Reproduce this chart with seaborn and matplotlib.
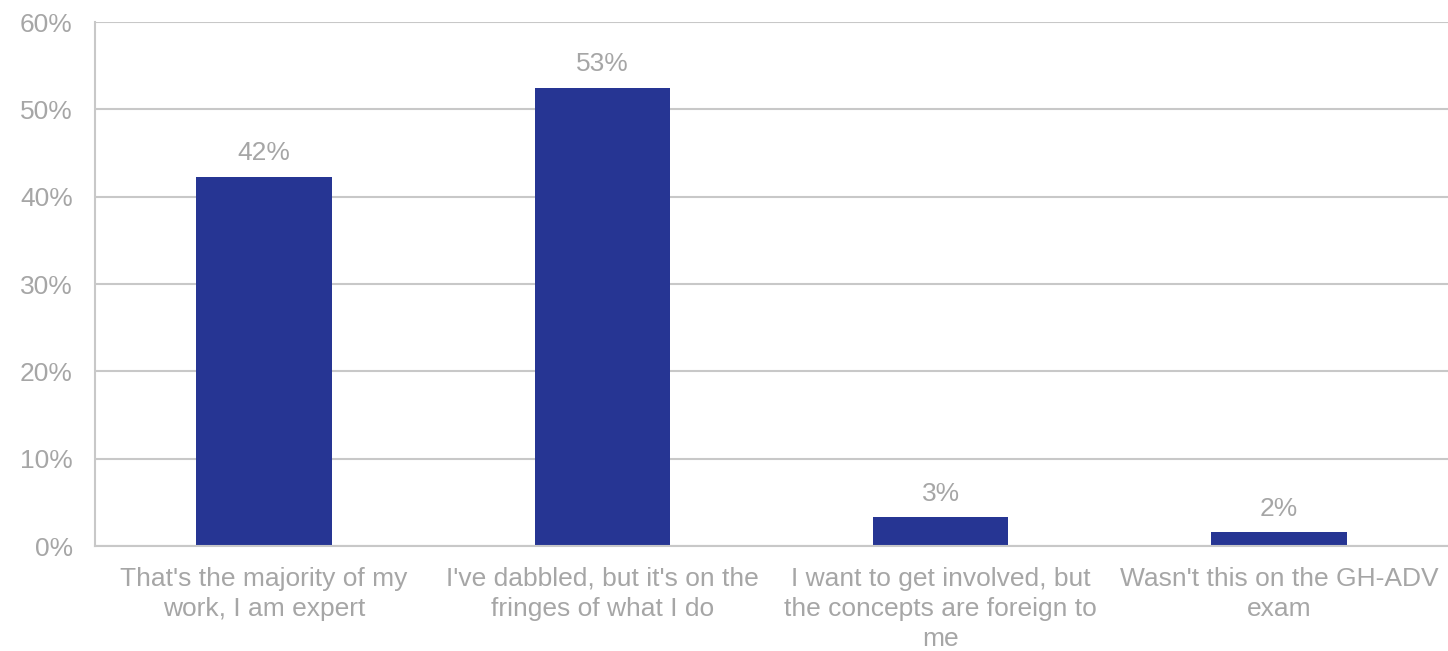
import matplotlib
matplotlib.use("Agg")
import matplotlib.pyplot as plt
import seaborn as sns
import pandas as pd

categories = [
    "That's the majority of my\nwork, I am expert",
    "I've dabbled, but it's on the\nfringes of what I do",
    "I want to get involved, but\nthe concepts are foreign to\nme",
    "Wasn't this on the GH-ADV\nexam",
]
values = [42.3, 52.5, 3.3, 1.6]
labels = ["42%", "53%", "3%", "2%"]
yticks = [0, 10, 20, 30, 40, 50, 60]

sns.set_theme(style="white")
plt.rcParams['font.family'] = ['Liberation Sans', 'DejaVu Sans']

gray = "#A6A6A6"
grid = "#C8C8C8"
bar_color = "#263593"

df = pd.DataFrame({"cat": categories, "val": values})

fig = plt.figure(figsize=(14.48, 6.51), dpi=100)
ax = fig.add_axes([95/1448, 105/651, 1 - 95/1448, (546-22)/651])
sns.barplot(data=df, x="cat", y="val", color=bar_color, width=0.4, ax=ax,
            saturation=1, edgecolor=bar_color, linewidth=0)

ax.set_ylim(0, 60)
ax.set_xlim(-0.5, 3.5)
ax.set_yticks(yticks)
ax.set_yticklabels([f"{t}%" for t in yticks])
ax.yaxis.grid(True, color=grid, linewidth=1.5)
ax.set_axisbelow(True)
for s in ["top", "right"]:
    ax.spines[s].set_visible(False)
for s in ["left", "bottom"]:
    ax.spines[s].set_color(grid)
    ax.spines[s].set_linewidth(1.5)
ax.set_xlabel("")
ax.set_ylabel("")
ax.tick_params(axis="both", length=0, colors=gray, labelsize=19)
ax.tick_params(axis="y", pad=16)
ax.tick_params(axis="x", pad=15)
for lbl in ax.get_xticklabels():
    lbl.set_linespacing(1.32)

for i, (v, t) in enumerate(zip(values, labels)):
    ax.annotate(t, (i, v), xytext=(0, 8), textcoords="offset points",
                ha="center", va="bottom", color=gray, fontsize=19)

fig.savefig("out.png", dpi=100)
